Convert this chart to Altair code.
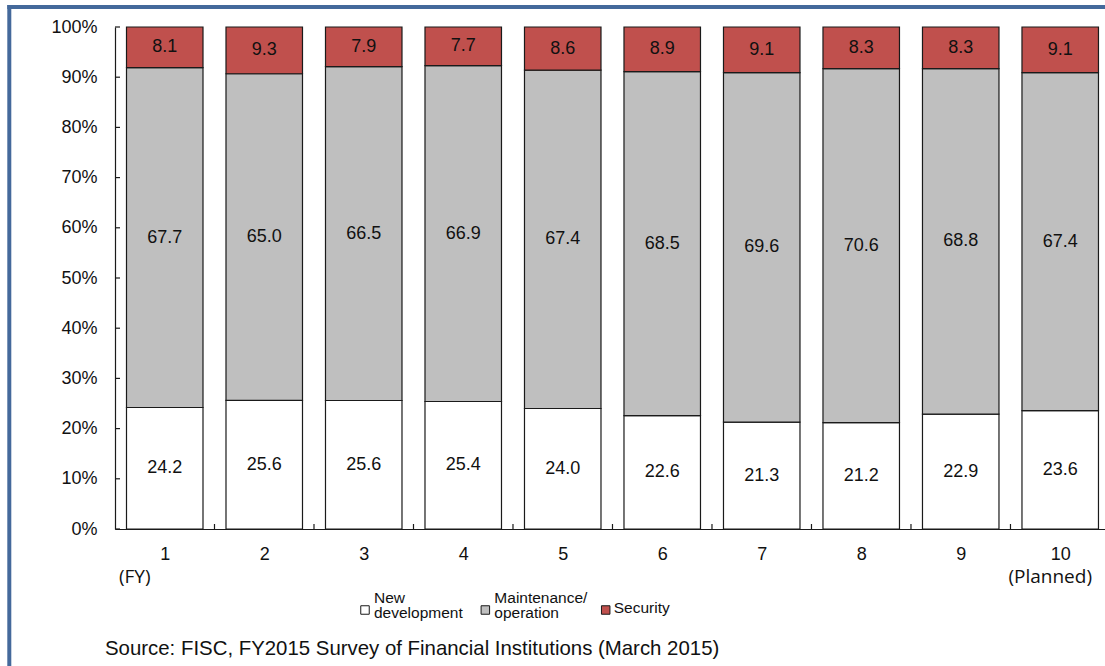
import altair as alt
import pandas as pd

# Share of IT budget by purpose (percent), fiscal years 1-10
years = ["1", "2", "3", "4", "5", "6", "7", "8", "9", "10"]
new_dev = [24.2, 25.6, 25.6, 25.4, 24.0, 22.6, 21.3, 21.2, 22.9, 23.6]
maint = [67.7, 65.0, 66.5, 66.9, 67.4, 68.5, 69.6, 70.6, 68.8, 67.4]
security = [8.1, 9.3, 7.9, 7.7, 8.6, 8.9, 9.1, 8.3, 8.3, 9.1]

series = ["New development", "Maintenance/operation", "Security"]
legend_text = {
    "New development": "New\ndevelopment",
    "Maintenance/operation": "Maintenance/\noperation",
    "Security": "Security",
}
colors = ["#FFFFFF", "#BFBFBF", "#C0504D"]
source_note = "Source: FISC, FY2015 Survey of Financial Institutions (March 2015)"

rows = []
for i, yr in enumerate(years):
    for k, (name, vals) in enumerate(zip(series, [new_dev, maint, security])):
        rows.append({"year": yr, "pos": i + 1, "series": name, "k": k, "value": vals[i]})
df = pd.DataFrame(rows)

W, H = 990, 502
FONT = "Liberation Sans"
INK = "#111111"
EDGE = "#1a1a1a"

x_scale = alt.Scale(domain=[0.5, 10.45], nice=False, zero=False, padding=0)
y_scale = alt.Scale(domain=[0, 1], nice=False, padding=0)
color_scale = alt.Scale(domain=series, range=colors)

year_expr = "[" + ",".join(f"'{y}'" for y in years) + "][datum.value - 1]"

base = alt.Chart(df).transform_stack(
    stack="value",
    groupby=["year"],
    as_=["y0", "y1"],
    offset="normalize",
    sort=[alt.SortField("k", order="ascending")],
)

bars = base.mark_bar(width=76.5, stroke=EDGE, strokeWidth=1.2).encode(
    x=alt.X(
        "pos:Q",
        scale=x_scale,
        axis=alt.Axis(
            values=list(range(1, len(years) + 1)),
            labelExpr=year_expr,
            title=None,
            grid=False,
            ticks=False,
            tickSize=0,
            labelPadding=16,
            labelFlush=False,
        ),
    ),
    y=alt.Y(
        "y0:Q",
        scale=y_scale,
        axis=alt.Axis(
            values=[i / 10 for i in range(11)],
            format=".0%",
            title=None,
            grid=False,
            ticks=False,
            tickSize=0,
            labelPadding=18,
        ),
    ),
    y2="y1:Q",
    color=alt.Color("series:N", scale=color_scale, legend=None),
)

labels = base.transform_calculate(
    mid="(datum.y0 + datum.y1) / 2",
    txt="format(datum.value, '.1f')",
).mark_text(font=FONT, fontSize=18, color=INK).encode(
    x=alt.X("pos:Q", scale=x_scale),
    y=alt.Y("mid:Q", scale=y_scale),
    text="txt:N",
)

# inward tick marks between the year bars and along the percent axis
gap_df = pd.DataFrame({"g": [i + 0.5 for i in range(1, len(years))]})
x_ticks = alt.Chart(gap_df).mark_rule(color=EDGE, strokeWidth=1.2).encode(
    x=alt.X("g:Q", scale=x_scale),
    y=alt.value(H - 5),
    y2=alt.value(H),
)

tick_df = pd.DataFrame({"t": [i / 10 for i in range(11)]})
y_ticks = alt.Chart(tick_df).mark_rule(color=EDGE, strokeWidth=1.2).encode(
    y=alt.Y("t:Q", scale=y_scale),
    x=alt.value(0),
    x2=alt.value(5),
)

one = pd.DataFrame({"a": [0]})
frame_color = "#44699B"
frame_left = alt.Chart(one).mark_rule(color=frame_color, strokeWidth=4).encode(
    x=alt.value(-105.7), y=alt.value(-22), y2=alt.value(H + 140)
)
frame_top = alt.Chart(one).mark_rule(color=frame_color, strokeWidth=4).encode(
    y=alt.value(-20), x=alt.value(-107.7), x2=alt.value(W + 5)
)

note_fy = alt.Chart(one).mark_text(font="Open Sans", fontSize=19, color=INK, dx=-30).encode(
    x=alt.datum(1), y=alt.value(550), text=alt.value("(FY)")
)
note_plan = alt.Chart(one).mark_text(font="Open Sans", fontSize=19, color=INK, dx=-10).encode(
    x=alt.datum(len(years)), y=alt.value(550), text=alt.value("(Planned)")
)

source = alt.Chart(one).mark_text(
    font=FONT, fontSize=20.4, color=INK, align="left", baseline="alphabetic"
).encode(x=alt.value(-10), y=alt.value(628), text=alt.value(source_note))

main = alt.layer(
    bars, labels, x_ticks, y_ticks, frame_left, frame_top, note_fy, note_plan, source
)

# legend row below the plot: swatch + (possibly two-line) label per series
leg_x = alt.X("series:N", scale=alt.Scale(domain=series, range=[250, 490.7], padding=0), axis=None)
leg_df = pd.DataFrame({"series": series, "txt": [legend_text[s] for s in series]})
leg_multi = leg_df[leg_df["txt"].str.contains("\n")]
leg_single = leg_df[~leg_df["txt"].str.contains("\n")]

leg_sym = alt.Chart(leg_df).mark_square(size=72, stroke=EDGE, strokeWidth=1, opacity=1).encode(
    x=leg_x,
    y=alt.value(583),
    color=alt.Color("series:N", scale=color_scale, legend=None),
)
leg_txt_multi = alt.Chart(leg_multi).mark_text(
    font=FONT, fontSize=15.5, color=INK, align="left", baseline="alphabetic",
    lineBreak="\n", lineHeight=15, dx=9,
).encode(x=leg_x, y=alt.value(576.3), text="txt:N")
leg_txt_single = alt.Chart(leg_single).mark_text(
    font=FONT, fontSize=15.5, color=INK, align="left", baseline="alphabetic", dx=8,
).encode(x=leg_x, y=alt.value(586.3), text="txt:N")

legend = alt.layer(leg_sym, leg_txt_multi, leg_txt_single)

chart = (
    alt.layer(main, legend)
    .resolve_scale(x="independent", y="independent")
    .properties(
        width=W,
        height=H,
        padding={"left": 115, "top": 27, "right": 0, "bottom": 137},
        autosize=alt.AutoSizeParams(type="none"),
        background="white",
    )
    .configure_view(stroke=None)
    .configure_axis(
        domainColor=EDGE,
        domainWidth=1.2,
        labelFont=FONT,
        labelFontSize=18,
        labelColor=INK,
    )
)

chart.save("out.html", embed_options={"renderer": "svg", "actions": False})
